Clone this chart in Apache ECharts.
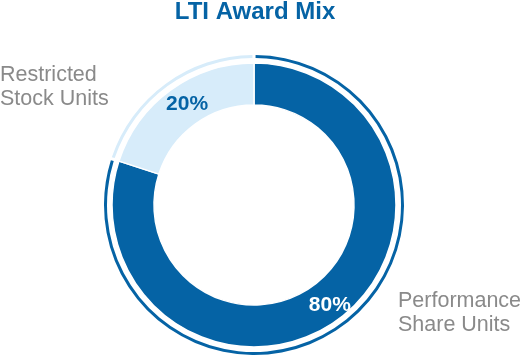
<!DOCTYPE html>
<html><head><meta charset="utf-8">
<script src="https://cdn.jsdelivr.net/npm/echarts@6/dist/echarts.min.js"></script>
<style>html,body{margin:0;padding:0;background:#fff}#c{width:522px;height:358px}</style>
</head><body><div id="c"></div>
<script>
const titleText = 'LTI Award Mix';
const categories = ['Performance\nShare Units', 'Restricted\nStock Units'];
const values = [80, 20];
const colors = ['#0563a5', '#d7ecfa'];
const labelColors = ['#ffffff', '#0563a5'];
const labelOffsets = [[3, 0], [6, 0]];

const chart = echarts.init(document.getElementById('c'), null, {renderer: 'canvas'});
const data = categories.map((c, i) => ({
  name: c, value: values[i],
  itemStyle: {color: colors[i]},
  label: {color: labelColors[i], offset: labelOffsets[i]}
}));
const ringData = categories.map((c, i) => ({name: c, value: values[i], itemStyle: {color: colors[i]}}));
chart.setOption({
  animation: false,
  title: {text: titleText, left: 250, textAlign: 'center', top: -5,
    textStyle: {fontFamily: 'Liberation Sans, Arial', fontWeight: 'bold', fontSize: 24, color: '#0563a5'}},
  series: [
    {type: 'pie', center: [254, 205], radius: [100, 142], startAngle: 90, clockwise: true,
     silent: true,
     itemStyle: {borderColor: '#fff', borderWidth: 1.5},
     label: {show: true, position: 'inside', formatter: '{c}%', fontFamily: 'Liberation Sans, Arial',
       fontWeight: 'bold', fontSize: 21},
     labelLine: {show: false},
     data: data},
    {type: 'pie', center: [254, 205], radius: [147, 150], startAngle: 90, clockwise: true,
     silent: true, padAngle: 1.2,
     label: {show: false}, labelLine: {show: false},
     data: ringData}
  ],
  graphic: [
    {type: 'text', left: 0, top: 63, style: {text: categories[1], fill: '#8a8a8a',
      font: '21.5px "Liberation Sans", Arial', lineHeight: 24}},
    {type: 'text', left: 398, top: 289, style: {text: categories[0], fill: '#8a8a8a',
      font: '21.5px "Liberation Sans", Arial', lineHeight: 24}}
  ]
});
</script></body></html>
